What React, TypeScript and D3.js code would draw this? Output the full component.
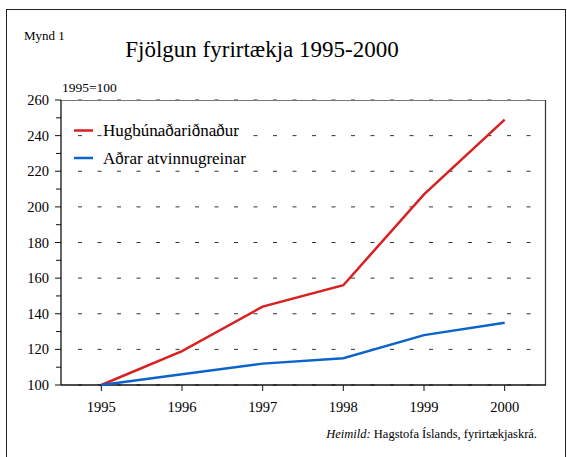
import React from 'react';
import * as d3 from 'd3';

const years = [1995, 1996, 1997, 1998, 1999, 2000];
const software = [100, 119, 144, 156, 207, 249];
const otherIndustries = [100, 106, 112, 115, 128, 135];
const yTicks = [100, 120, 140, 160, 180, 200, 220, 240, 260];
const minorTicks = [110, 130, 150, 170, 190, 210, 230, 250];
const seriesNames = ['Hugbúnaðariðnaður', 'Aðrar atvinnugreinar'];
const seriesColors = ['#d92020', '#0a64cc'];

const W = 567;
const H = 457;
const left = 61, right = 545, top = 100, bottom = 385;
const serif = { fontFamily: 'Liberation Serif' };

export default function App() {
  const x = d3.scalePoint<number>().domain(years).range([left, right]).padding(0.5);
  const y = d3.scaleLinear().domain([100, 260]).range([bottom, top]);

  const line = d3.line<number>()
    .x((_, i) => x(years[i]) as number)
    .y((d) => y(d));

  const series = [software, otherIndustries];

  return (
    <svg width={W} height={H} style={{ position: 'absolute', left: 0, top: 0, fontFamily: 'Liberation Serif' }}>
      <rect x={6.5} y={9.5} width={559} height={460} fill="white" stroke="#222" strokeWidth={1} />

      <text x={24} y={40} fontSize={13} style={serif}>Mynd 1</text>
      <text x={262} y={57} fontSize={23} textAnchor="middle" style={serif}>Fjölgun fyrirtækja 1995-2000</text>
      <text x={62} y={92} fontSize={13.5} style={serif}>1995=100</text>

      {/* dashed grid */}
      {yTicks.map((t) => (
        <line key={'g' + t} x1={78} x2={540} y1={y(t)} y2={y(t)}
          stroke="#333" strokeWidth={1} strokeDasharray="4,15.5" />
      ))}

      {/* frame */}
      <line x1={left} x2={right} y1={top + 0.5} y2={top + 0.5} stroke="#777" strokeWidth={1} />
      <line x1={right + 0.5} x2={right + 0.5} y1={top} y2={bottom} stroke="#333" strokeWidth={1.2} />
      <line x1={left} x2={left} y1={top} y2={bottom} stroke="#111" strokeWidth={1.3} />
      <line x1={left} x2={right + 1} y1={bottom} y2={bottom} stroke="#111" strokeWidth={1.3} />

      {/* y ticks */}
      {yTicks.map((t) => (
        <g key={'y' + t}>
          <line x1={left - 6} x2={left} y1={y(t)} y2={y(t)} stroke="#111" strokeWidth={1} />
          <text x={left - 12} y={y(t) + 5} fontSize={14.5} textAnchor="end" style={serif}>{t}</text>
        </g>
      ))}
      {minorTicks.map((t) => (
        <line key={'m' + t} x1={left - 5} x2={left} y1={y(t)} y2={y(t)} stroke="#111" strokeWidth={1} />
      ))}

      {/* x ticks */}
      {years.map((yr) => (
        <g key={'x' + yr}>
          <line x1={x(yr)} x2={x(yr)} y1={bottom} y2={bottom + 6} stroke="#111" strokeWidth={1} />
          <text x={x(yr)} y={412} fontSize={14.5} textAnchor="middle" style={serif}>{yr}</text>
        </g>
      ))}

      {/* lines */}
      {series.map((s, i) => (
        <path key={'s' + i} d={line(s) || ''} fill="none" stroke={seriesColors[i]} strokeWidth={2.5} />
      ))}

      {/* legend */}
      {seriesNames.map((n, i) => (
        <g key={'l' + i}>
          <line x1={74} x2={93} y1={130.5 + i * 27.5} y2={130.5 + i * 27.5} stroke={seriesColors[i]} strokeWidth={2.5} />
          <text x={103} y={136 + i * 27.5} fontSize={17} style={serif}>{n}</text>
        </g>
      ))}

      <text x={537} y={438} fontSize={12.5} textAnchor="end" style={serif}>
        <tspan fontStyle="italic">Heimild:</tspan> Hagstofa Íslands, fyrirtækjaskrá.
      </text>
    </svg>
  );
}
